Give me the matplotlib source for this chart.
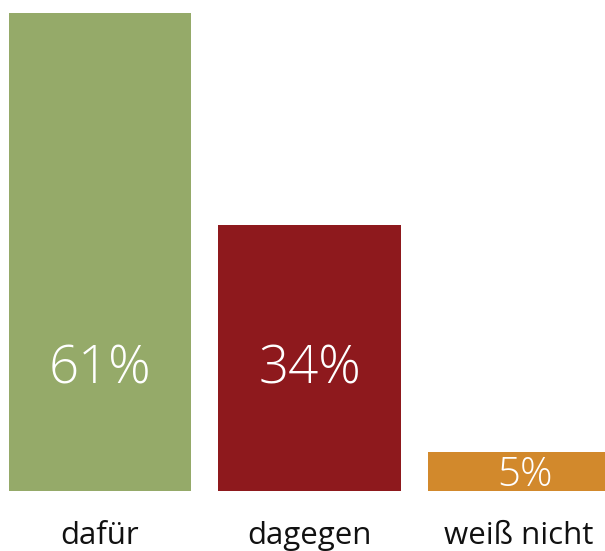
import matplotlib
matplotlib.use("Agg")
import matplotlib.pyplot as plt

categories = ["dafür", "dagegen", "weiß nicht"]
values = [61, 34, 5]
value_labels = ["61%", "34%", "5%"]
colors = ["#95aa69", "#8e191d", "#d2892c"]

plt.rcParams['font.family'] = ['Open Sans', 'DejaVu Sans']

fig = plt.figure(figsize=(6.05, 5.51), dpi=100)
ax = fig.add_axes([0, 0, 1, 1])

x = range(len(categories))
ax.bar(x, values, width=0.869, color=colors)

# pixel scale: 7.836 px per percent, baseline at y=491 px
ax.set_xlim(-0.4773, 2.4105)
ax.set_ylim(-7.657, 62.66)
ax.axis("off")

for i, (v, lab) in enumerate(zip(values, value_labels)):
    if v > 20:
        ax.text(i, 13.78, lab, ha="center", va="baseline", color="white",
                fontsize=38, fontweight="light")
    else:
        ax.text(i + 0.03, 0.64, lab, ha="center", va="baseline", color="white",
                fontsize=29, fontweight="light")

for i, c in enumerate(categories):
    ax.text(i, -6.76, c, ha="center", va="baseline", color="#111111", fontsize=22.5)

fig.savefig("out.png", dpi=100)
